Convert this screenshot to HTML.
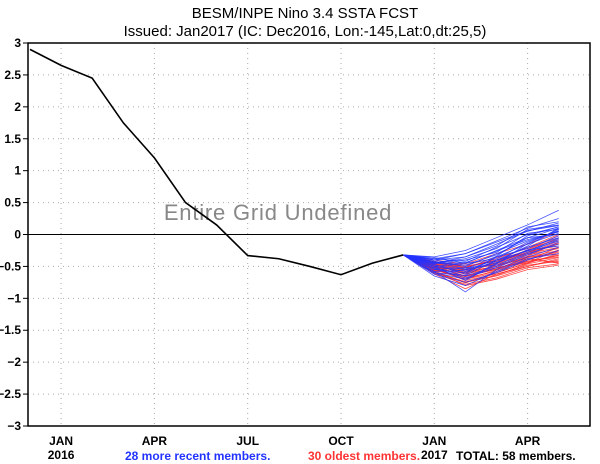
<!DOCTYPE html>
<html><head><meta charset="utf-8"><style>
html,body{margin:0;padding:0;background:#fff;}
svg{display:block;font-family:"Liberation Sans",sans-serif;}
</style></head><body>
<svg id="chart" width="600" height="464" viewBox="0 0 600 464" xmlns="http://www.w3.org/2000/svg">
<rect x="0" y="0" width="600" height="464" fill="#fff"/>
<text x="305" y="18" text-anchor="middle" font-size="15">BESM/INPE Nino 3.4 SSTA FCST</text>
<text x="305" y="36" text-anchor="middle" font-size="15">Issued: Jan2017 (IC: Dec2016, Lon:-145,Lat:0,dt:25,5)</text>
<g id="grid"></g>
<text x="278" y="220" text-anchor="middle" font-size="22" letter-spacing="0.8" fill="#888">Entire Grid Undefined</text>
<g id="series"></g>
<rect x="28" y="43" width="562" height="383" fill="none" stroke="#000" stroke-width="1.5"/>
<g id="axes" font-weight="bold"></g>
<text x="125" y="460" font-size="12" font-weight="bold" fill="#2233ff">28 more recent members.</text>
<text x="308" y="460" font-size="12" font-weight="bold" fill="#ff3333">30 oldest members.</text>
<text x="456" y="460" font-size="12" font-weight="bold" fill="#000">TOTAL: 58 members.</text>
</svg>
<script>
const yTicks=[3,2.5,2,1.5,1,0.5,0,-0.5,-1,-1.5,-2,-2.5,-3];
const monthLabels=["JAN","APR","JUL","OCT","JAN","APR"];
const monthIdx=[1,4,7,10,13,16];
const yearLabels=["2016","","","","2017",""];
const observed=[2.9,2.65,2.45,1.75,1.2,0.5,0.15,-0.33,-0.38,-0.5,-0.63,-0.45,-0.32];
const recent=[
[-0.35,-0.25,-0.05,0.15,0.38],[-0.40,-0.30,-0.10,0.10,0.25],[-0.45,-0.35,-0.15,0.05,0.18],
[-0.38,-0.42,-0.20,0.00,0.12],[-0.50,-0.45,-0.25,-0.05,0.10],[-0.42,-0.50,-0.30,-0.10,0.05],
[-0.55,-0.60,-0.35,-0.15,0.02],[-0.48,-0.55,-0.40,-0.20,-0.05],[-0.60,-0.70,-0.45,-0.25,-0.10],
[-0.52,-0.65,-0.50,-0.30,-0.15],[-0.58,-0.90,-0.55,-0.35,-0.20],[-0.45,-0.40,-0.28,0.02,0.08],
[-0.40,-0.48,-0.32,-0.05,0.00],[-0.62,-0.75,-0.60,-0.40,-0.25],[-0.50,-0.58,-0.42,-0.18,0.10],
[-0.44,-0.38,-0.22,0.08,0.15],[-0.36,-0.45,-0.38,-0.12,0.06],[-0.55,-0.52,-0.48,-0.28,-0.08],
[-0.47,-0.62,-0.35,-0.22,-0.02],[-0.65,-0.80,-0.58,-0.38,-0.30],[-0.40,-0.35,-0.18,0.12,0.20],
[-0.53,-0.68,-0.52,-0.32,-0.12],[-0.46,-0.44,-0.26,-0.08,0.04],[-0.58,-0.56,-0.44,-0.24,-0.18],
[-0.50,-0.72,-0.46,-0.14,0.08],[-0.43,-0.54,-0.34,-0.02,0.12],[-0.60,-0.64,-0.40,-0.26,-0.06],
[-0.38,-0.30,-0.12,0.06,0.14]];
const oldest=[
[-0.45,-0.55,-0.45,-0.30,-0.10],[-0.50,-0.65,-0.55,-0.40,-0.20],[-0.55,-0.70,-0.60,-0.45,-0.30],
[-0.42,-0.50,-0.40,-0.25,-0.05],[-0.60,-0.75,-0.65,-0.50,-0.40],[-0.48,-0.58,-0.50,-0.35,-0.25],
[-0.52,-0.62,-0.48,-0.38,-0.45],[-0.58,-0.80,-0.70,-0.55,-0.48],[-0.46,-0.52,-0.38,-0.20,0.00],
[-0.54,-0.68,-0.58,-0.42,-0.35],[-0.50,-0.60,-0.44,-0.28,-0.15],[-0.62,-0.85,-0.62,-0.48,-0.42],
[-0.44,-0.48,-0.36,-0.22,-0.08],[-0.56,-0.66,-0.52,-0.44,-0.32],[-0.48,-0.56,-0.46,-0.32,-0.22],
[-0.53,-0.72,-0.62,-0.50,-0.38],[-0.40,-0.46,-0.30,-0.15,0.05],[-0.57,-0.64,-0.54,-0.36,-0.28],
[-0.51,-0.58,-0.42,-0.26,-0.18],[-0.61,-0.78,-0.68,-0.52,-0.46],[-0.47,-0.54,-0.48,-0.34,-0.12],
[-0.55,-0.70,-0.56,-0.40,-0.26],[-0.43,-0.52,-0.40,-0.30,-0.20],[-0.59,-0.74,-0.64,-0.46,-0.36],
[-0.49,-0.60,-0.50,-0.36,-0.30],[-0.52,-0.56,-0.44,-0.24,-0.02],[-0.46,-0.62,-0.52,-0.42,-0.33],
[-0.57,-0.76,-0.60,-0.44,-0.24],[-0.50,-0.66,-0.54,-0.38,-0.44],[-0.45,-0.50,-0.42,-0.28,-0.14]];

const NS="http://www.w3.org/2000/svg";
function xm(i){return 30+i*31.1;}
function ys(v){return 234.5-v*63.83;}
function mk(tag,attrs,parent){const e=document.createElementNS(NS,tag);for(const k in attrs)e.setAttribute(k,attrs[k]);parent.appendChild(e);return e;}
const grid=document.getElementById('grid'),series=document.getElementById('series'),axes=document.getElementById('axes');

yTicks.forEach(v=>{
  if(v!==0&&v!==3&&v!==-3){const l=mk('line',{x1:28,x2:590,y1:ys(v),y2:ys(v),stroke:'#aaa','stroke-dasharray':'1,4'},grid);
  
  }
  const t=mk('text',{x:21,y:ys(v)+4,'text-anchor':'end','font-size':12},axes);
  t.textContent=(v<0?'\u2212'+Math.abs(v):v);
  
  
  const tk=mk('line',{x1:23,x2:28,y1:ys(v),y2:ys(v),stroke:'#000'},axes);
  
  
});
monthIdx.forEach((m,i)=>{
  const l=mk('line',{x1:xm(m),x2:xm(m),y1:43,y2:426,stroke:'#aaa','stroke-dasharray':'1,4'},grid);
  
  
  const t=mk('text',{x:xm(m),y:445,'text-anchor':'middle','font-size':12},axes);
  t.textContent=monthLabels[i];
  
  
  if(yearLabels[i]){const y=mk('text',{x:xm(m),y:459,'text-anchor':'middle','font-size':12},axes);
  y.textContent=yearLabels[i];
  
  }
});
const zl=mk('line',{x1:28,x2:590,y1:ys(0),y2:ys(0),stroke:'#000','stroke-width':1},grid);



const start=observed.length-1;
function member(vals,color,name){
  const pts=[[xm(start),ys(observed[start])]].concat(vals.map((v,i)=>[xm(start+1+i),ys(v)]));
  const p=mk('polyline',{points:pts.map(q=>q.join(',')).join(' '),fill:'none',stroke:color,'stroke-width':0.8,'stroke-opacity':0.85},series);
  
  
}
oldest.forEach(r=>member(r,'#ff2a2a','oldest-member-line'));
recent.forEach(r=>member(r,'#2233ff','recent-member-line'));
const obs=mk('polyline',{points:observed.map((v,i)=>xm(i)+','+ys(v)).join(' '),fill:'none',stroke:'#000','stroke-width':1.6},series);


</script>
</body></html>
